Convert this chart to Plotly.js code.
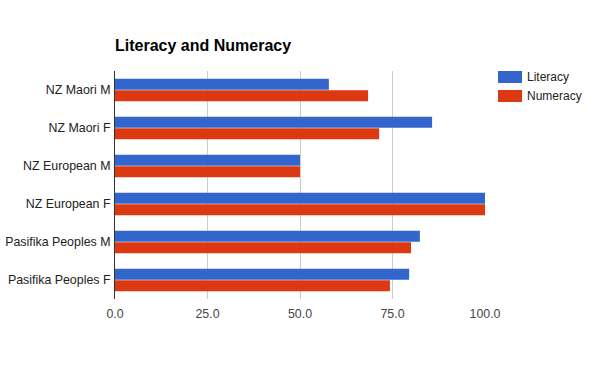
<!DOCTYPE html>
<html>
<head>
<meta charset="utf-8">
<script src="https://cdn.plot.ly/plotly-3.0.1.min.js"></script>
<style>html,body{margin:0;padding:0;background:#fff;}#chart{width:600px;height:371px;}</style>
</head>
<body>
<div id="chart"></div>
<script>
const categories = ["NZ Maori M", "NZ Maori F", "NZ European M", "NZ European F", "Pasifika Peoples M", "Pasifika Peoples F"];
const literacy = [57.8, 85.7, 50.0, 100.0, 82.4, 79.5];
const numeracy = [68.4, 71.4, 50.0, 100.0, 80.0, 74.3];
const seriesNames = ["Literacy", "Numeracy"];
const colors = ["#3366cc", "#dc3912"];
const xTicks = [0, 25, 50, 75, 100];

const traces = [literacy, numeracy].map((vals, i) => ({
  type: "bar",
  orientation: "h",
  name: seriesNames[i],
  x: vals,
  y: categories,
  marker: {color: colors[i]},
  showlegend: false,
  hoverinfo: "x+name"
}));

const shapes = [];
const annotations = [];
seriesNames.forEach((n, i) => {
  const y0 = 71 + i * 19;
  shapes.push({type: "rect", xref: "paper", yref: "paper",
    x0: (498 - 115) / 370, x1: (522 - 115) / 370,
    y0: 1 - (y0 - 71 + 12) / 228, y1: 1 - (y0 - 71) / 228,
    fillcolor: colors[i], line: {width: 0}});
  annotations.push({xref: "paper", yref: "paper", x: (525 - 115) / 370, y: 1 - (y0 - 71 + 6) / 228,
    xanchor: "left", yanchor: "middle", showarrow: false, text: n,
    font: {family: "Liberation Sans, Arial, sans-serif", size: 12, color: "#222"}});
});

const layout = {
  width: 600, height: 371,
  margin: {l: 115, r: 115, t: 71, b: 72},
  paper_bgcolor: "#fff", plot_bgcolor: "#fff",
  font: {family: "Liberation Sans, Arial, sans-serif", size: 12, color: "#222"},
  title: {text: "<b>Literacy and Numeracy</b>", x: 115 / 600, xanchor: "left", y: 1 - 45 / 371, yanchor: "middle",
    font: {family: "Liberation Sans, Arial, sans-serif", size: 16, color: "#000"}},
  barmode: "group",
  bargap: 0.39,
  bargroupgap: 0.04,
  xaxis: {range: [0, 100], tickvals: xTicks, tickformat: ".1f", showgrid: true, gridcolor: "#cccccc", gridwidth: 1,
    zeroline: false, showline: false, ticks: "", tickfont: {size: 12.4, color: "#444"}, ticklabelstandoff: 6, fixedrange: true},
  yaxis: {autorange: "reversed", showline: true, linecolor: "#333", linewidth: 1, ticks: "", showgrid: false,
    tickfont: {size: 12.4, color: "#222"}, ticklabelstandoff: 1, fixedrange: true},
  shapes: shapes,
  annotations: annotations
};

Plotly.newPlot("chart", traces, layout, {displayModeBar: false, staticPlot: true});
</script>
</body>
</html>
